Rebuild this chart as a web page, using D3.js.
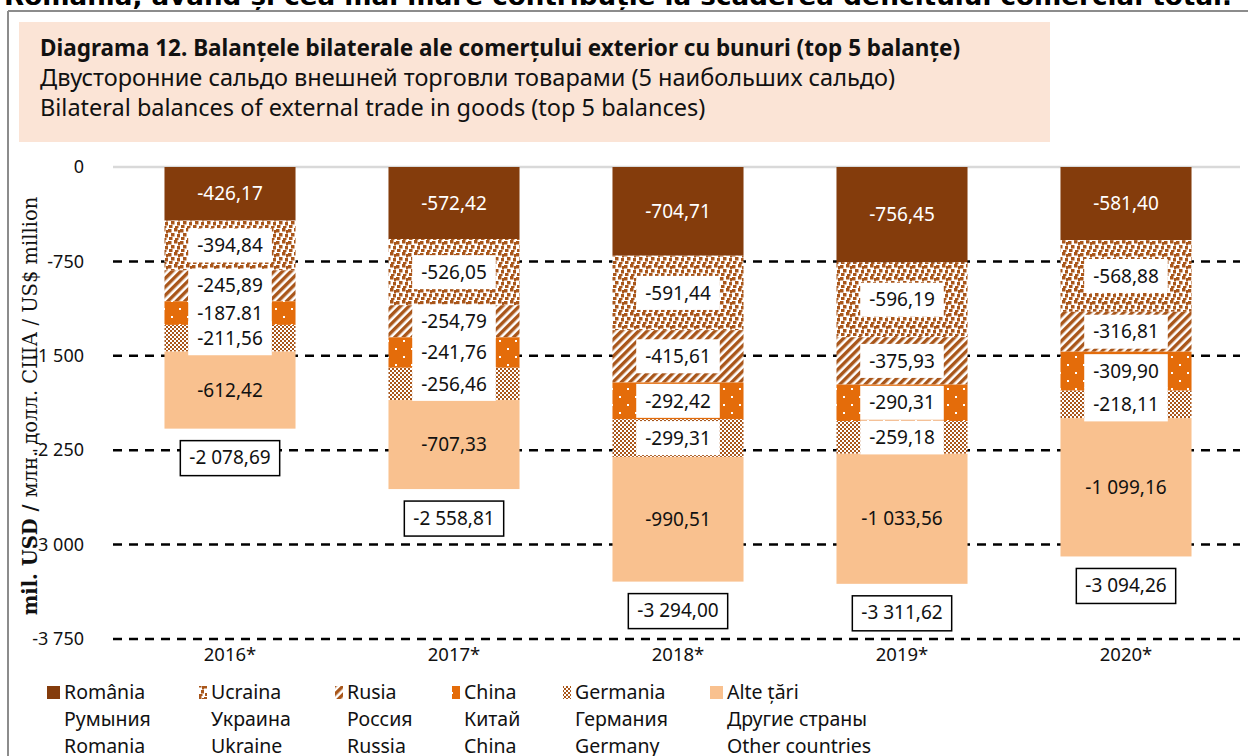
<!DOCTYPE html>
<html>
<head>
<meta charset="utf-8">
<script src="https://cdn.jsdelivr.net/npm/d3@7"></script>
<style>
  body { margin: 0; background: #fff; }
  svg { display: block; font-family: "Noto Sans", "Open Sans", sans-serif; }
</style>
</head>
<body>
<div id="chart"></div>
<script>
// Categories and series (mil. USD)
const years = ["2016*", "2017*", "2018*", "2019*", "2020*"];
const romania  = [-426.17, -572.42, -704.71, -756.45, -581.40];
const ucraina  = [-394.84, -526.05, -591.44, -596.19, -568.88];
const rusia    = [-245.89, -254.79, -415.61, -375.93, -316.81];
const china    = [-187.81, -241.76, -292.42, -290.31, -309.90];
const germania = [-211.56, -256.46, -299.31, -259.18, -218.11];
const alte     = [-612.42, -707.33, -990.51, -1033.56, -1099.16];
const totals   = [-2078.69, -2558.81, -3294.00, -3311.62, -3094.26];
const yTicks = [0, -750, -1500, -2250, -3000, -3750];

const keys = ["romania", "ucraina", "rusia", "china", "germania", "alte"];
const legendRo = ["România", "Ucraina", "Rusia", "China", "Germania", "Alte țări"];
const legendRu = ["Румыния", "Украина", "Россия", "Китай", "Германия", "Другие страны"];
const legendEn = ["Romania", "Ukraine", "Russia", "China", "Germany", "Other countries"];
// one label in the source uses a point as decimal mark
const pointDecimal = [["2016*", "china"]];

const rows = years.map((y, i) => ({
  year: y, romania: romania[i], ucraina: ucraina[i], rusia: rusia[i],
  china: china[i], germania: germania[i], alte: alte[i], total: totals[i]
}));

var width = 1248, height = 756;
var brown = "#843c0c", patBrown = "#a9561a", orange = "#e46c0a", peach = "#f9c18f";

var ro = d3.formatLocale({decimal: ",", thousands: " ", grouping: [3], currency: ["", ""], minus: "-"});
var fmt = ro.format(",.2f");
var fmtTick = ro.format(",d");

var svg = d3.select("#chart").append("svg")
  .attr("width", width).attr("height", height);

var defs = svg.append("defs");

// Ucraina: brown confetti squares on white
var pU = defs.append("pattern").attr("id", "pUcr").attr("patternUnits", "userSpaceOnUse")
  .attr("width", 12).attr("height", 12);
pU.append("rect").attr("width", 12).attr("height", 12).attr("fill", "#fff");
[[0, 1], [6, 0], [3, 5], [9, 6], [1, 9], [7, 10], [10, 2]].forEach(function(p) {
  pU.append("rect").attr("x", p[0]).attr("y", p[1]).attr("width", 3.5).attr("height", 3.5).attr("fill", patBrown);
});

// Rusia: wide upward diagonal
var pR = defs.append("pattern").attr("id", "pRus").attr("patternUnits", "userSpaceOnUse")
  .attr("width", 6).attr("height", 6).attr("patternTransform", "rotate(45)");
pR.append("rect").attr("width", 6).attr("height", 6).attr("fill", "#fff");
pR.append("rect").attr("width", 3.4).attr("height", 6).attr("fill", patBrown);

// China: orange with small white dots
var pC = defs.append("pattern").attr("id", "pChi").attr("patternUnits", "userSpaceOnUse")
  .attr("width", 16).attr("height", 16);
pC.append("rect").attr("width", 16).attr("height", 16).attr("fill", orange);
pC.append("rect").attr("x", 3).attr("y", 4).attr("width", 2).attr("height", 2).attr("fill", "#fff");
pC.append("rect").attr("x", 11).attr("y", 12).attr("width", 2).attr("height", 2).attr("fill", "#fff");

// Germania: small checker
var pG = defs.append("pattern").attr("id", "pGer").attr("patternUnits", "userSpaceOnUse")
  .attr("width", 4).attr("height", 4);
pG.append("rect").attr("width", 4).attr("height", 4).attr("fill", "#fff");
pG.append("rect").attr("x", 0).attr("y", 0).attr("width", 2).attr("height", 2).attr("fill", patBrown);
pG.append("rect").attr("x", 2).attr("y", 2).attr("width", 2).attr("height", 2).attr("fill", patBrown);

var fills = {
  romania: brown, ucraina: "url(#pUcr)", rusia: "url(#pRus)",
  china: "url(#pChi)", germania: "url(#pGer)", alte: peach
};

// cut-off text from the page above
svg.append("text").attr("x", 4).attr("y", 5)
  .attr("font-family", "DejaVu Sans").attr("font-weight", "bold").attr("font-size", 25)
  .attr("textLength", 1228).attr("lengthAdjust", "spacingAndGlyphs")
  .text("România, având și cea mai mare contribuție la scăderea deficitului comercial total.");

// frame
svg.append("line").attr("x1", 8).attr("x2", width).attr("y1", 11).attr("y2", 11)
  .attr("stroke", "#8c8c8c").attr("stroke-width", 2);
svg.append("line").attr("x1", 8).attr("x2", 8).attr("y1", 11).attr("y2", height)
  .attr("stroke", "#8c8c8c").attr("stroke-width", 2);

// title box
svg.append("rect").attr("x", 19).attr("y", 22).attr("width", 1031).attr("height", 120)
  .attr("fill", "#fbe4d6");
var title = svg.append("g").attr("fill", "#111");
title.append("text").attr("x", 40).attr("y", 56).attr("font-weight", "bold").attr("font-size", 22.5)
  .text("Diagrama 12. Balanțele bilaterale ale comerțului exterior cu bunuri (top 5 balanțe)");
title.append("text").attr("x", 40).attr("y", 86).attr("font-size", 23.5)
  .text("Двусторонние сальдо внешней торговли товарами (5 наибольших сальдо)");
title.append("text").attr("x", 40).attr("y", 116).attr("font-size", 23.5)
  .text("Bilateral balances of external trade in goods (top 5 balances)");

// scales
var x = d3.scaleBand().domain(years).range([118, 1238]).paddingInner(0.415).paddingOuter(0.2075);
var y = d3.scaleLinear().domain([-3750, 0]).range([639, 167]);

// grid
var grid = svg.append("g");
grid.selectAll("line").data(yTicks).enter().append("line")
  .attr("x1", 113).attr("x2", 1240)
  .attr("y1", d => y(d)).attr("y2", d => y(d))
  .attr("stroke", d => d === 0 ? "#d9d9d9" : "#000")
  .attr("stroke-width", 2.5)
  .attr("stroke-dasharray", d => d === 0 ? null : "9,7");

// y axis labels
var yAxis = d3.axisLeft(y).tickValues(yTicks).tickSize(0).tickPadding(0)
  .tickFormat(d => fmtTick(d));
svg.append("g").attr("transform", "translate(84,0)").call(yAxis)
  .call(g => g.select(".domain").remove())
  .selectAll("text").attr("font-size", 18).attr("fill", "#111")
  .attr("font-family", "Noto Sans");

// y title
svg.append("text").attr("transform", "translate(37,406) rotate(-90)")
  .attr("text-anchor", "middle").attr("font-size", 19.5).attr("font-family", "DejaVu Serif, serif")
  .attr("fill", "#111")
  .call(t => {
    t.append("tspan").attr("font-weight", "bold").text("mil. USD / ");
    t.append("tspan").text("млн. долл. США / US$ million");
  });

// x axis labels
var xAxis = d3.axisBottom(x).tickSize(0).tickPadding(0);
svg.append("g").attr("transform", "translate(0,648)").call(xAxis)
  .call(g => g.select(".domain").remove())
  .selectAll("text").attr("font-size", 18.5).attr("fill", "#111")
  .attr("font-family", "Noto Sans");

// stacked bars
var stack = d3.stack().keys(keys).offset(d3.stackOffsetDiverging);
var series = stack(rows);

var bars = svg.append("g");
series.forEach(function(s) {
  bars.selectAll(null).data(s).enter().append("rect")
    .attr("x", d => x(d.data.year))
    .attr("width", x.bandwidth())
    .attr("y", d => y(Math.max(d[0], d[1])))
    .attr("height", d => Math.abs(y(d[0]) - y(d[1])))
    .attr("fill", fills[s.key]);
});

// segment labels
function labelText(key, d) {
  var s = fmt(d.data[key]);
  if (pointDecimal.some(p => p[0] === d.data.year && p[1] === key)) s = s.replace(",", ".");
  return s;
}
var boxG = svg.append("g"), txtG = svg.append("g");
series.forEach(function(s) {
  s.forEach(function(d) {
    var cx = x(d.data.year) + x.bandwidth() / 2;
    var cy = (y(d[0]) + y(d[1])) / 2;
    var boxed = s.key !== "romania" && s.key !== "alte";
    var t = txtG.append("text").attr("x", cx).attr("y", cy).attr("dy", "0.35em")
      .attr("text-anchor", "middle").attr("font-size", 19)
      .attr("fill", s.key === "romania" ? "#fff" : "#111")
      .text(labelText(s.key, d));
    if (boxed) {
      var bb = t.node().getBBox();
      boxG.append("rect").attr("x", bb.x - 9).attr("y", cy - 17)
        .attr("width", bb.width + 18).attr("height", 34).attr("fill", "#fff");
    }
  });
});

// total labels
var tot = svg.append("g");
rows.forEach(function(r) {
  var cx = x(r.year) + x.bandwidth() / 2;
  var cy = y(r.total) + 29;
  var t = tot.append("text").attr("x", cx).attr("y", cy).attr("dy", "0.35em")
    .attr("text-anchor", "middle").attr("font-size", 19).attr("fill", "#111")
    .text(fmt(r.total));
  var bb = t.node().getBBox();
  tot.insert("rect", "text").attr("x", bb.x - 9).attr("y", cy - 17)
    .attr("width", bb.width + 18).attr("height", 35)
    .attr("fill", "#fff").attr("stroke", "#000").attr("stroke-width", 1.5);
});

// legend
var legX = [64, 211, 347, 464, 575, 727];
var leg = svg.append("g").attr("font-size", 19.5).attr("fill", "#111");
keys.forEach(function(k, i) {
  var w = (k === "romania" || k === "alte") ? 13 : 8;
  leg.append("rect").attr("x", legX[i] - 4 - w).attr("y", 686).attr("width", w).attr("height", 13)
    .attr("fill", fills[k]);
  leg.append("text").attr("x", legX[i]).attr("y", 699).text(legendRo[i]);
  leg.append("text").attr("x", legX[i]).attr("y", 726).text(legendRu[i]);
  leg.append("text").attr("x", legX[i]).attr("y", 753).text(legendEn[i]);
});
</script>
</body>
</html>
